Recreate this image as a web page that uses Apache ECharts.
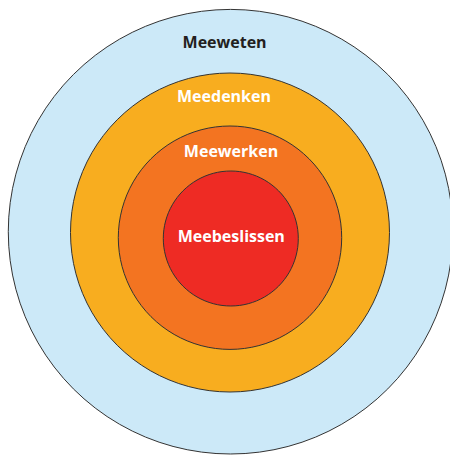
<!DOCTYPE html>
<html>
<head>
<meta charset="utf-8">
<script src="https://cdn.jsdelivr.net/npm/echarts@6/dist/echarts.min.js"></script>
<style>html,body{margin:0;padding:0;background:#fff;}#c{width:450px;height:455px;}</style>
</head>
<body>
<div id="c"></div>
<script>
// Levels from outer to inner
const levels = ['Meeweten', 'Meedenken', 'Meewerken', 'Meebeslissen'];
const radii = [222.3, 159.5, 111.7, 67.5];
const centers = [[230.6, 231.7], [230, 232.5], [230, 237.7], [230.8, 238.5]];
const colors = ['#cce9f8', '#f8ad1f', '#f37421', '#ee2b24'];
const textColors = ['#231f20', '#ffffff', '#ffffff', '#ffffff'];
const labelShift = [[-6, -190], [-6, -136.5], [1, -87], [0.5, -3]];

const chart = echarts.init(document.getElementById('c'), null, {renderer: 'svg'});
const series = levels.map((name, i) => ({
  type: 'pie',
  silent: true,
  animation: false,
  center: centers[i],
  radius: [0, radii[i]],
  z: i + 1,
  itemStyle: {color: colors[i], borderColor: '#333333', borderWidth: 1},
  label: {
    show: true, position: 'center', formatter: '{b}',
    color: textColors[i], fontFamily: 'Open Sans', fontWeight: 'bold', fontSize: 16
  },
  labelLine: {show: false},
  labelLayout: {dx: labelShift[i][0], dy: labelShift[i][1]},
  emphasis: {disabled: true},
  data: [{name: name, value: 1}]
}));
chart.setOption({animation: false, series: series});
</script>
</body>
</html>
